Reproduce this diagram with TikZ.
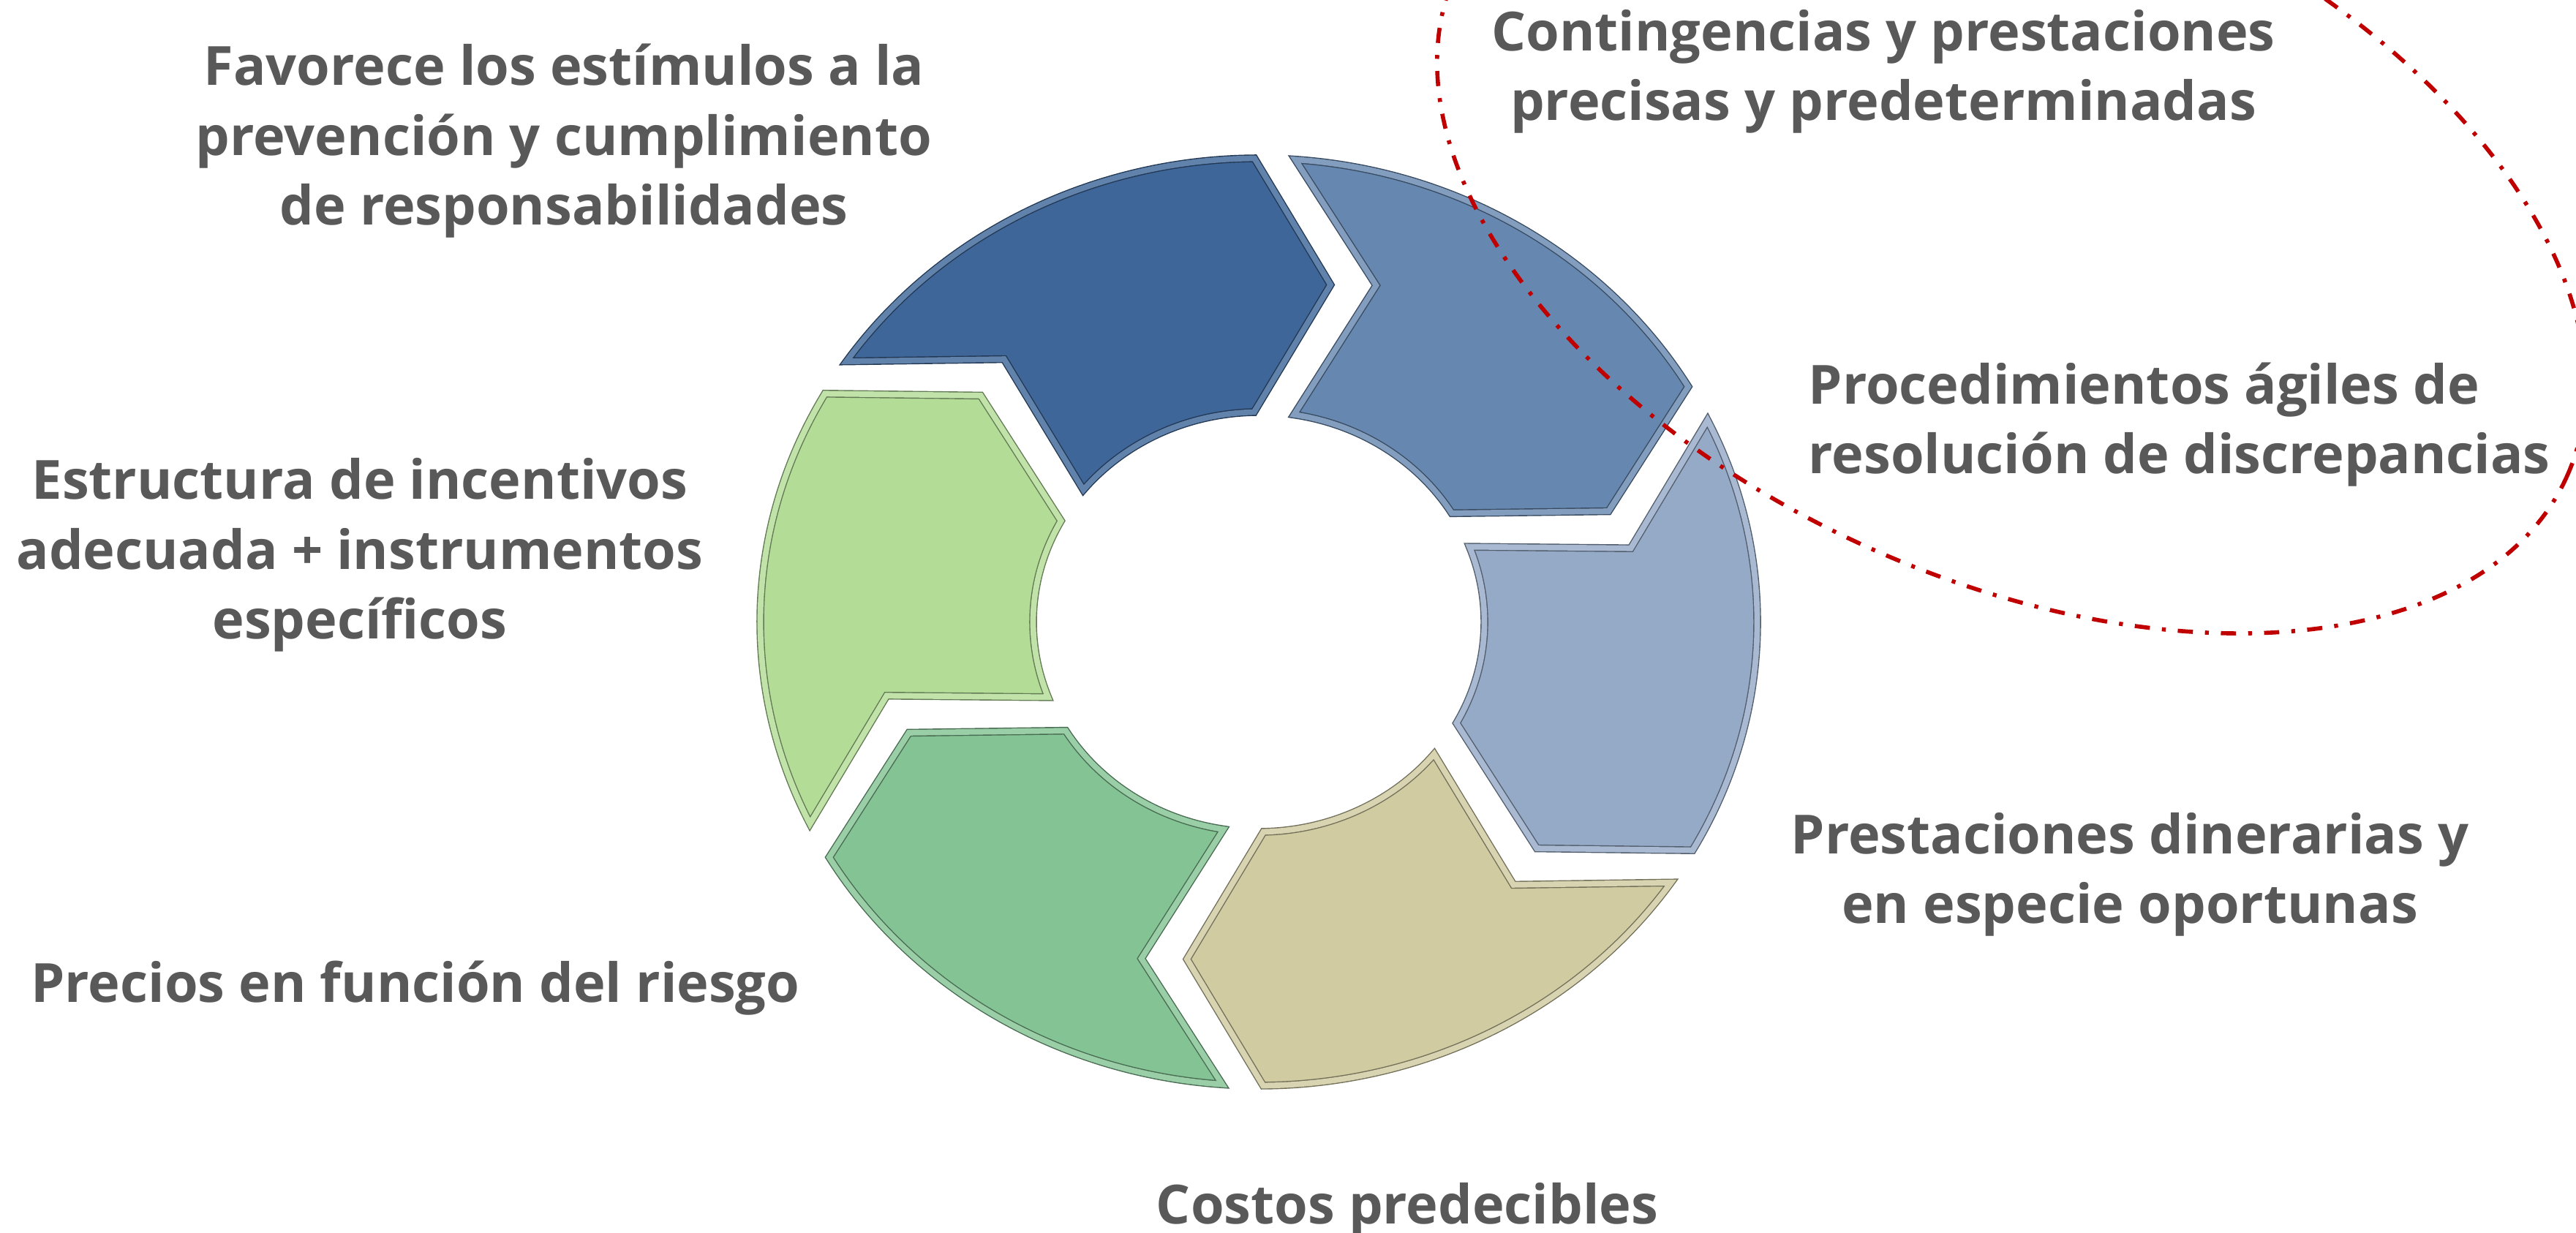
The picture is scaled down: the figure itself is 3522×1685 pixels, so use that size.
\documentclass[tikz,border=0pt]{standalone}
\usepackage{fontspec}
\setmainfont{Open Sans}
\usetikzlibrary{calc}
\definecolor{txtgray}{HTML}{595959}
\definecolor{cDarkBlue}{HTML}{3E6699}
\definecolor{cMidBlue}{HTML}{6688B0}
\definecolor{cLightBlue}{HTML}{95AAC7}
\definecolor{cTan}{HTML}{D0CBA1}
\definecolor{cGreen}{HTML}{83C394}
\definecolor{cLightGreen}{HTML}{B3DD97}
\definecolor{cRed}{HTML}{C00000}
\tikzset{
  segstyle/.style={fill=#1, draw=#1!55!black, double=#1!82!white, double distance=2.2pt, line width=0.4pt, line join=miter},
  lbl/.style={font=\fontsize{21}{27.2}\selectfont\bfseries, text=txtgray, inner sep=0pt, align=center},
  redloop/.style={draw=cRed, line width=1.6pt, dash pattern=on 5.9pt off 4.7pt on 1.5pt off 4.7pt}
}
% #1 trailing boundary angle, #2 colour
\newcommand{\ringseg}[2]{%
  \pgfmathsetmacro{\segA}{#1}%
  \pgfmathsetmacro{\segB}{#1-60}%
  \filldraw[segstyle=#2]
    ({\segA-4.2}:634) arc[start angle={\segA-4.2}, end angle={\segB+0.5}, radius=634]
    -- ({\segB-11.2}:470)
    -- ({\segB+1.2}:287) arc[start angle={\segB+1.2}, end angle={\segA-9.0}, radius=287]
    -- ($({\segA-11.7}:470)+({\segA-90}:54)$) -- cycle;
}
\begin{document}
\begin{tikzpicture}[x=0.01cm,y=0.01cm]
\useasboundingbox (0,0) rectangle (3522,1685);
\fill[white] (0,0) rectangle (3522,1685);
\begin{scope}[shift={(1721,834.5)}, xscale=1.075]
  \ringseg{150}{cDarkBlue}
  \ringseg{90}{cMidBlue}
  \ringseg{30}{cLightBlue}
  \ringseg{-30}{cTan}
  \ringseg{-90}{cGreen}
  \ringseg{-150}{cLightGreen}
\end{scope}
\begin{scope}
  \clip (0,0) rectangle (3522,1685);
  \draw[redloop, rotate around={-24.47:(2750,1378)}] (2750,1378) ellipse [x radius=834, y radius=483];
\end{scope}
\node[lbl, anchor=base] (favorece) at (771,1377) {Favorece los estímulos a la\\prevención y cumplimiento\\de responsabilidades};
\node[lbl, anchor=base] (estructura) at (492,811) {Estructura de incentivos\\adecuada + instrumentos\\específicos};
\node[lbl, anchor=base] (precios) at (568,314) {Precios en función del riesgo};
\node[lbl, anchor=base] (costos) at (1924,12) {Costos predecibles};
\node[lbl, anchor=base] (prestaciones) at (2912,422) {Prestaciones dinerarias y\\en especie oportunas};
\node[lbl, align=left, anchor=base west] (procedimientos) at (2472,1037) {Procedimientos ágiles de\\resolución de discrepancias};
\node[lbl, anchor=base] (contingencias) at (2575,1520) {Contingencias y prestaciones\\precisas y predeterminadas};
\end{tikzpicture}
\end{document}
